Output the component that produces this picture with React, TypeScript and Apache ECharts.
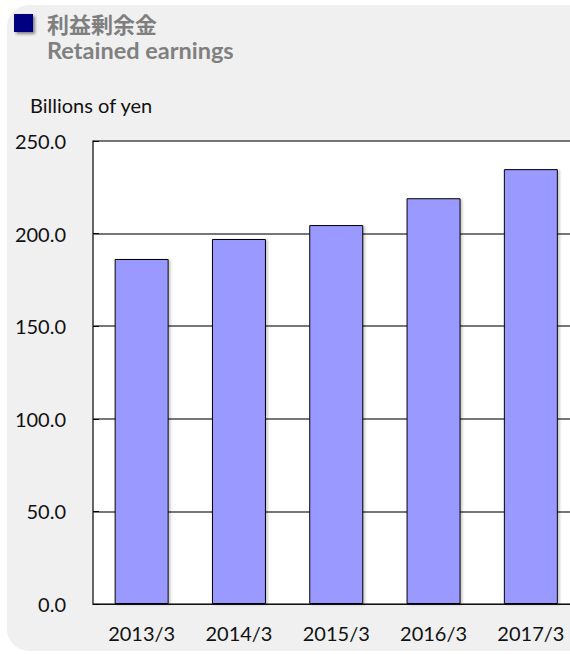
import React, { useEffect, useRef } from "react";
import * as echarts from "echarts";

const categories = ["2013/3", "2014/3", "2015/3", "2016/3", "2017/3"];
const retainedEarnings = [186.3, 197.1, 204.6, 219.1, 234.8];
const yTicks = { min: 0, max: 250, interval: 50 };
const titleJa = "利益剰余金";
const titleEn = "Retained earnings";
const unitLabel = "Billions of yen";

export default function App() {
  const ref = useRef<HTMLDivElement>(null);
  useEffect(() => {
    if (!ref.current) return;
    const chart = echarts.init(ref.current, null, { renderer: "svg" });
    const font = "Lato, 'Noto Sans', sans-serif";
    chart.setOption({
      animation: false,
      backgroundColor: "#ffffff",
      graphic: [
        {
          type: "rect",
          z: -10,
          shape: { x: 7, y: 5, width: 640, height: 646, r: [22, 0, 0, 22] },
          style: { fill: "#f0f0f0" },
          silent: true,
        },
        {
          type: "rect",
          shape: { x: 14, y: 14, width: 19, height: 18 },
          style: {
            fill: "#000080",
            shadowColor: "rgba(0,0,0,0.45)",
            shadowBlur: 3,
            shadowOffsetX: 2,
            shadowOffsetY: 2,
          },
        },
        {
          type: "text",
          x: 47,
          y: 23,
          style: {
            text: titleJa,
            fill: "#7f7f7f",
            font: "bold 22px 'Noto Sans CJK JP', sans-serif",
            verticalAlign: "middle",
            align: "left",
          },
        },
        {
          type: "text",
          x: 47,
          y: 50,
          style: {
            text: titleEn,
            fill: "#808080",
            font: "bold 23.5px " + font,
            verticalAlign: "middle",
            align: "left",
          },
        },
        {
          type: "text",
          x: 30,
          y: 105,
          style: {
            text: unitLabel,
            fill: "#111111",
            font: "20px " + font,
            verticalAlign: "middle",
            align: "left",
          },
        },
      ],
      grid: {
        left: 93,
        top: 141,
        right: 20.5,
        bottom: 50,
        show: true,
        backgroundColor: "#ffffff",
        borderWidth: 0,
      },
      xAxis: {
        type: "category",
        data: categories,
        axisLine: { show: true, lineStyle: { color: "#111", width: 1 } },
        axisTick: { show: false },
        axisLabel: {
          color: "#111",
          fontSize: 20,
          fontFamily: font,
          margin: 19,
        },
      },
      yAxis: {
        type: "value",
        min: yTicks.min,
        max: yTicks.max,
        interval: yTicks.interval,
        axisLine: { show: true, lineStyle: { color: "#333", width: 1.5 } },
        axisTick: { show: true, inside: true, length: 6, lineStyle: { color: "#000" } },
        axisLabel: {
          color: "#111",
          fontSize: 20,
          fontFamily: font,
          margin: 27,
          formatter: (v: number) => v.toFixed(1),
        },
        splitLine: {
          show: true,
          lineStyle: {
            color: "#4a4a4a",
            width: 1.5,
          },
        },
      },
      series: [
        {
          type: "bar",
          data: retainedEarnings,
          barWidth: "55.5%",
          itemStyle: {
            color: "#9999ff",
            borderColor: "#000",
            borderWidth: 1,
            shadowColor: "rgba(0,0,0,0.2)",
            shadowOffsetX: 2,
            shadowOffsetY: 1,
            shadowBlur: 2,
          },
        },
      ],
    });
    return () => chart.dispose();
  }, []);
  return (
    <div
      style={{
        position: "fixed",
        left: 0,
        top: 0,
        width: 570,
        height: 654,
        overflow: "hidden",
      }}
    >
      <div ref={ref} style={{ width: 600, height: 654 }} />
    </div>
  );
}
